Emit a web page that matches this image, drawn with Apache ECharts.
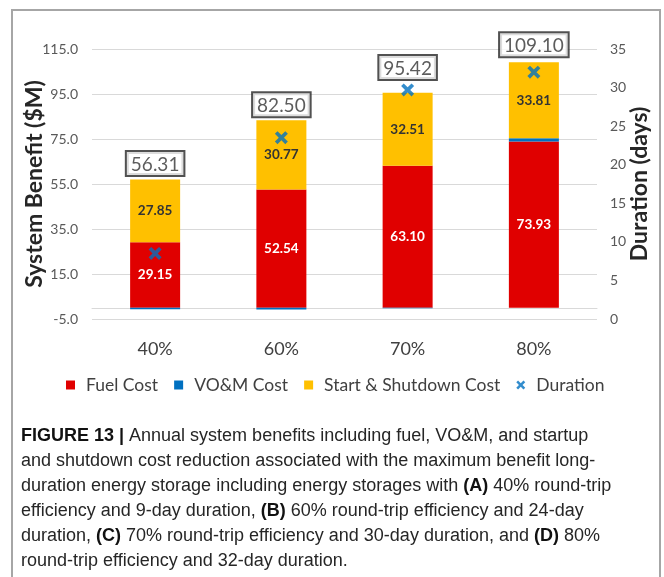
<!DOCTYPE html>
<html>
<head>
<meta charset="utf-8">
<script src="https://cdn.jsdelivr.net/npm/echarts@6/dist/echarts.min.js"></script>
<style>
  html, body { margin: 0; padding: 0; background: #ffffff; }
  #chart { width: 664px; height: 577px; }
</style>
</head>
<body>
<div id="chart"></div>
<script>
// ---- data ----
const categories = ['40%', '60%', '70%', '80%'];
const fuelCost = [29.15, 52.54, 63.10, 73.93];
const vomCost = [-0.69, -0.81, -0.19, 1.36];
const startShutdownCost = [27.85, 30.77, 32.51, 33.81];
const totals = [56.31, 82.50, 95.42, 109.10];
const durationDays = [8.5, 23.5, 29.7, 32.0];
const leftTicks = [-5, 15, 35, 55, 75, 95, 115];

// ---- styles ----
const RED = '#E00000', BLUE = '#0070C0', YELLOW = '#FFC000';
const GRID_COLOR = '#D9D9D9';
const XPATH = 'path://M0,3 L3,0 L7.5,4.5 L12,0 L15,3 L10.5,7.5 L15,12 L12,15 L7.5,10.5 L3,15 L0,12 L4.5,7.5 Z';
const SQPATH = 'path://M0,0 L10,0 L10,10 L0,10 Z';
const FONT = 'Lato, "Open Sans", sans-serif';
const CAP_FONT = '"Liberation Sans", Arial, sans-serif';

const chart = echarts.init(document.getElementById('chart'));

const caption =
  '{b|FIGURE 13 |} Annual system benefits including fuel, VO&M, and startup\n' +
  'and shutdown cost reduction associated with the maximum benefit long-\n' +
  'duration energy storage including energy storages with {b|(A)} 40% round-trip\n' +
  'efficiency and 9-day duration, {b|(B)} 60% round-trip efficiency and 24-day\n' +
  'duration, {b|(C)} 70% round-trip efficiency and 30-day duration, and {b|(D)} 80%\n' +
  'round-trip efficiency and 32-day duration.';

const option = {
  animation: false,
  backgroundColor: '#ffffff',
  textStyle: { fontFamily: FONT },
  grid: { left: 92, right: 67, top: 49, bottom: 258, containLabel: false },
  legend: {
    left: 61, top: 371,
    itemWidth: 21, itemHeight: 9, itemGap: 16,
    textStyle: { fontSize: 17.5, color: '#404040', fontFamily: FONT },
    data: [
      { name: 'Fuel Cost', icon: SQPATH },
      { name: 'VO&M Cost', icon: SQPATH },
      { name: 'Start & Shutdown Cost', icon: SQPATH },
      { name: 'Duration', icon: XPATH, itemStyle: { color: BLUE } }
    ]
  },
  xAxis: {
    type: 'category',
    data: categories,
    axisLine: { onZero: true, onZeroAxisIndex: 0, lineStyle: { color: GRID_COLOR, width: 1 } },
    axisTick: { show: false },
    axisLabel: { fontSize: 18, color: '#404040', margin: 21, fontFamily: FONT },
    splitLine: { show: false }
  },
  yAxis: [
    {
      type: 'value', min: -5, max: 115,
      axisLine: { show: false },
      axisTick: { show: false, customValues: leftTicks },
      axisLabel: {
        customValues: leftTicks, fontSize: 14, color: '#595959', margin: 14,
        formatter: v => v.toFixed(1)
      },
      splitLine: { show: true, lineStyle: { color: GRID_COLOR, width: 1 } },
      name: 'System Benefit ($M)', nameLocation: 'middle', nameRotate: 90, nameGap: 46,
      nameMoveOverlap: false,
      nameTextStyle: { fontSize: 23, fontWeight: 'bold', color: '#262626', fontFamily: FONT }
    },
    {
      type: 'value', min: 0, max: 35, interval: 5, position: 'right',
      axisLine: { show: false }, axisTick: { show: false },
      axisLabel: { fontSize: 14, color: '#595959', margin: 13 },
      splitLine: { show: false },
      name: 'Duration (days)', nameLocation: 'middle', nameRotate: 90, nameGap: 31,
      nameMoveOverlap: false,
      nameTextStyle: { fontSize: 23, fontWeight: 'bold', color: '#262626', fontFamily: FONT }
    }
  ],
  series: [
    {
      name: 'Fuel Cost', type: 'bar', stack: 'cost', barWidth: 50,
      itemStyle: { color: RED },
      label: { show: true, position: 'inside', color: '#ffffff', fontSize: 13.5, fontWeight: 'bold',
               formatter: p => p.value.toFixed(2) },
      data: fuelCost
    },
    {
      name: 'VO&M Cost', type: 'bar', stack: 'cost', barWidth: 50,
      itemStyle: { color: BLUE },
      data: vomCost
    },
    {
      name: 'Start & Shutdown Cost', type: 'bar', stack: 'cost', barWidth: 50,
      itemStyle: { color: YELLOW },
      label: { show: true, position: 'inside', color: '#333333', fontSize: 13.5, fontWeight: 'bold',
               formatter: p => p.value.toFixed(2) },
      data: startShutdownCost
    },
    {
      name: 'Total', type: 'scatter', yAxisIndex: 0, symbolSize: 0, silent: true,
      z: 5,
      label: {
        show: true, position: 'top', distance: 6,
        fontSize: 19, color: '#333333', fontFamily: FONT,
        backgroundColor: '#ffffff', borderColor: '#262626', borderWidth: 2,
        padding: [3, 4, 1, 4],
        formatter: p => p.value.toFixed(2)
      },
      data: totals.map((v, i) => i === 2 ? { value: v, label: { distance: 14 } } : v)
    },
    {
      name: 'Duration', type: 'scatter', yAxisIndex: 1,
      symbol: XPATH, symbolSize: 13, z: 6,
      itemStyle: { color: BLUE },
      data: durationDays
    }
  ],
  graphic: [
    {
      type: 'rect', z: -1, silent: true,
      shape: { x: 12, y: 10, width: 648, height: 600 },
      style: { fill: null, stroke: '#A6A6A6', lineWidth: 2 }
    },
    {
      type: 'text', left: 21, top: 424,
      style: {
        text: caption,
        font: '18px ' + CAP_FONT,
        fill: '#262626',
        lineHeight: 25,
        rich: {
          b: { fontWeight: 'bold', fontSize: 18, fontFamily: CAP_FONT, fill: '#111111', lineHeight: 25 }
        }
      }
    }
  ]
};

chart.setOption(option);
</script>
</body>
</html>
